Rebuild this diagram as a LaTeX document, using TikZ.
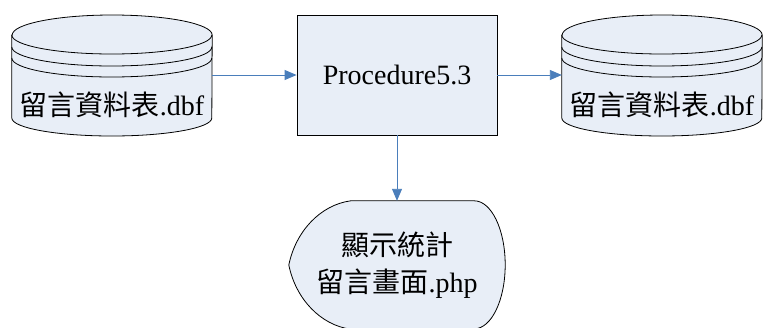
\documentclass[tikz,border=0pt]{standalone}
\usepackage{fontspec}
\setmainfont{Liberation Serif}
\newfontfamily\cjk{Noto Sans CJK TC}
\usetikzlibrary{arrows.meta,backgrounds}
\definecolor{shapefill}{HTML}{E8EEF7}
\definecolor{linkblue}{HTML}{4A7EBB}

\begin{document}
\begin{tikzpicture}[
    x=1pt, y=1pt,
    disk/.style={minimum width=200pt, minimum height=120pt, inner sep=0pt,
                 text height=80pt, text depth=0pt, font=\fontsize{28}{32}\selectfont},
    box/.style={draw, fill=shapefill, line width=0.8pt,
                minimum width=200pt, minimum height=120pt, font=\fontsize{28}{32}\selectfont},
    screen/.style={minimum width=216pt, minimum height=128pt, inner sep=0pt,
                   align=center, font=\fontsize{28}{37}\selectfont},
    outline/.style={draw, fill=shapefill, line width=0.8pt},
    arr/.style={-{Triangle[length=12pt,width=10pt]}, line width=0.9pt, color=linkblue}
  ]
    \useasboundingbox (0,0) rectangle (763,-327);

    \node[disk]   (src)  at (112,-75)  {{\cjk 留言資料表}.dbf};
    \node[box]    (proc) at (397,-75)  {Procedure5.3};
    \node[disk]   (dst)  at (662,-75)  {{\cjk 留言資料表}.dbf};
    \node[screen] (show) at (397,-265) {{\cjk 顯示統計}\\{\cjk 留言畫面}.php};

    \begin{scope}[on background layer]
      \foreach \db in {src,dst} {
        \draw[outline] ([yshift=40pt]\db.west) -- ([yshift=-43pt]\db.west)
          arc[start angle=180, end angle=360, x radius=100pt, y radius=18pt]
          -- ([yshift=40pt]\db.east)
          arc[start angle=0, end angle=180, x radius=100pt, y radius=20pt] -- cycle;
        \foreach \dy in {40,28,17}
          \draw[line width=0.8pt] ([yshift=\dy pt]\db.west)
            arc[start angle=180, end angle=360, x radius=100pt, y radius=19pt];
      }
      \draw[outline] ([xshift=62pt]show.north west) -- ([xshift=-31pt]show.north east)
        arc[start angle=90, end angle=-90, x radius=31pt, y radius=64pt]
        -- ([xshift=62pt]show.south west)
        .. controls ([xshift=32pt,yshift=4pt]show.south west)
                and ([xshift=7pt,yshift=30pt]show.south west) .. (show.west)
        .. controls ([xshift=7pt,yshift=-30pt]show.north west)
                and ([xshift=32pt,yshift=-4pt]show.north west) .. ([xshift=62pt]show.north west)
        -- cycle;
    \end{scope}

    \draw[arr] (src)  -- (proc);
    \draw[arr] (proc) -- (dst);
    \draw[arr] (proc) -- (show);
  \end{tikzpicture}
\end{document}
